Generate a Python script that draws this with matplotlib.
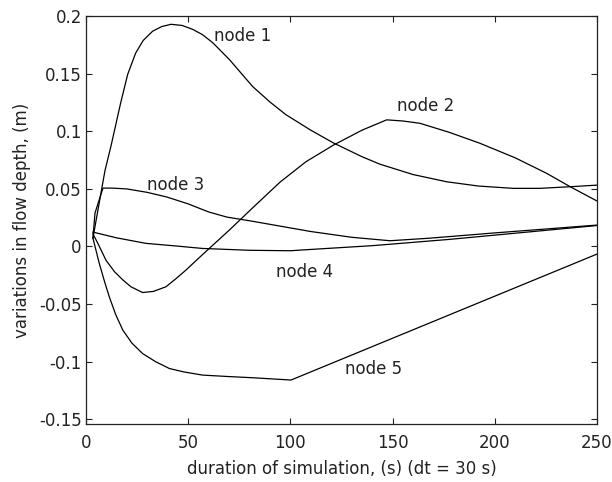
import matplotlib
matplotlib.use('Agg')
import matplotlib.pyplot as plt

plt.rcParams['font.family'] = ['DejaVu Sans']
plt.rcParams['font.size'] = 12

# node 1
t1 = [3.4, 9.3, 12.2, 17, 20.4, 24.3, 28, 32.6, 37, 41.6, 47, 52.2, 57, 62, 70.1,
      81.5, 90, 97.8, 110, 121, 135, 143.8, 160, 176.5, 192, 209, 222, 236.8, 250]
h1 = [0.0073, 0.066, 0.087, 0.125, 0.1495, 0.168, 0.179, 0.187, 0.191, 0.193, 0.192,
      0.1886, 0.184, 0.177, 0.1625, 0.139, 0.1255, 0.1145, 0.101, 0.090, 0.078, 0.0715,
      0.0625, 0.0562, 0.0525, 0.0505, 0.0505, 0.0519, 0.0533]

# node 2
t2 = [3.4, 6, 9.8, 14, 18, 22, 27.7, 33, 39.1, 44, 48.9, 54, 60.3, 70.1, 80, 95,
      107.6, 121, 135, 147.1, 155, 163.4, 178, 192.8, 210, 225.4, 236.8, 249.8]
h2 = [0.011, 0.002, -0.012, -0.022, -0.029, -0.035, -0.040, -0.039, -0.035, -0.028,
      -0.0205, -0.012, -0.0017, 0.0142, 0.031, 0.056, 0.0736, 0.088, 0.101, 0.110,
      0.109, 0.107, 0.099, 0.0896, 0.077, 0.0635, 0.052, 0.0397]

# node 3
t3 = [3.4, 4.4, 8.3, 13, 20, 30, 39.5, 50, 60, 69, 80.2, 110, 130, 148.7, 168, 200, 250]
h3 = [0.0073, 0.029, 0.0507, 0.0507, 0.050, 0.047, 0.043, 0.037, 0.030, 0.0255,
      0.0223, 0.013, 0.008, 0.005, 0.0072, 0.0118, 0.0186]

# node 4
t4 = [3.4, 15, 29.4, 45, 57, 80, 100, 106, 140, 178, 250]
h4 = [0.0125, 0.0075, 0.0027, 0.0003, -0.0017, -0.0033, -0.0037, -0.003, 0.0007,
      0.0062, 0.0182]

# node 5
t5 = [3.4, 6.5, 9, 11.4, 14.5, 18, 22.5, 27.7, 34, 40.8, 48, 57, 70, 81.5, 100.3, 250]
h5 = [0.0073, -0.0147, -0.030, -0.0437, -0.059, -0.0726, -0.084, -0.093, -0.100,
      -0.106, -0.109, -0.1117, -0.113, -0.114, -0.116, -0.0066]

labels = ['node 1', 'node 2', 'node 3', 'node 4', 'node 5']
label_x = [76.8, 166.3, 44, 107, 140.7]
label_y = [0.1826, 0.1224, 0.0538, -0.0225, -0.106]

fig = plt.figure(figsize=(6.12, 4.82), dpi=100)
ax = fig.add_axes([0.1405, 0.1203, 0.835, 0.8465])

for t, h in [(t1, h1), (t2, h2), (t3, h3), (t4, h4), (t5, h5)]:
    ax.plot(t, h, color='black', linewidth=0.9)

for lab, x, y in zip(labels, label_x, label_y):
    ax.text(x, y, lab, ha='center', va='center', color='#222222')

ax.set_xlim(0, 250)
ax.set_ylim(-0.1542, 0.2002)
ax.set_xticks([0, 50, 100, 150, 200, 250])
ax.set_yticks([-0.15, -0.1, -0.05, 0, 0.05, 0.1, 0.15, 0.2])
ax.set_xticklabels(['0', '50', '100', '150', '200', '250'])
ax.set_yticklabels(['-0.15', '-0.1', '-0.05', '0', '0.05', '0.1', '0.15', '0.2'])
ax.tick_params(direction='in', top=True, right=True, length=4, width=0.8,
               colors='#222222', labelsize=12)
ax.tick_params(axis='x', pad=7)
ax.tick_params(axis='y', pad=3)
for s in ax.spines.values():
    s.set_linewidth(0.9)
    s.set_color('#222222')

ax.set_xlabel('duration of simulation, (s) (dt = 30 s)', color='#222222', labelpad=6)
ax.set_ylabel('variations in flow depth, (m)', color='#222222', labelpad=6)

fig.savefig('out.png', dpi=100)
